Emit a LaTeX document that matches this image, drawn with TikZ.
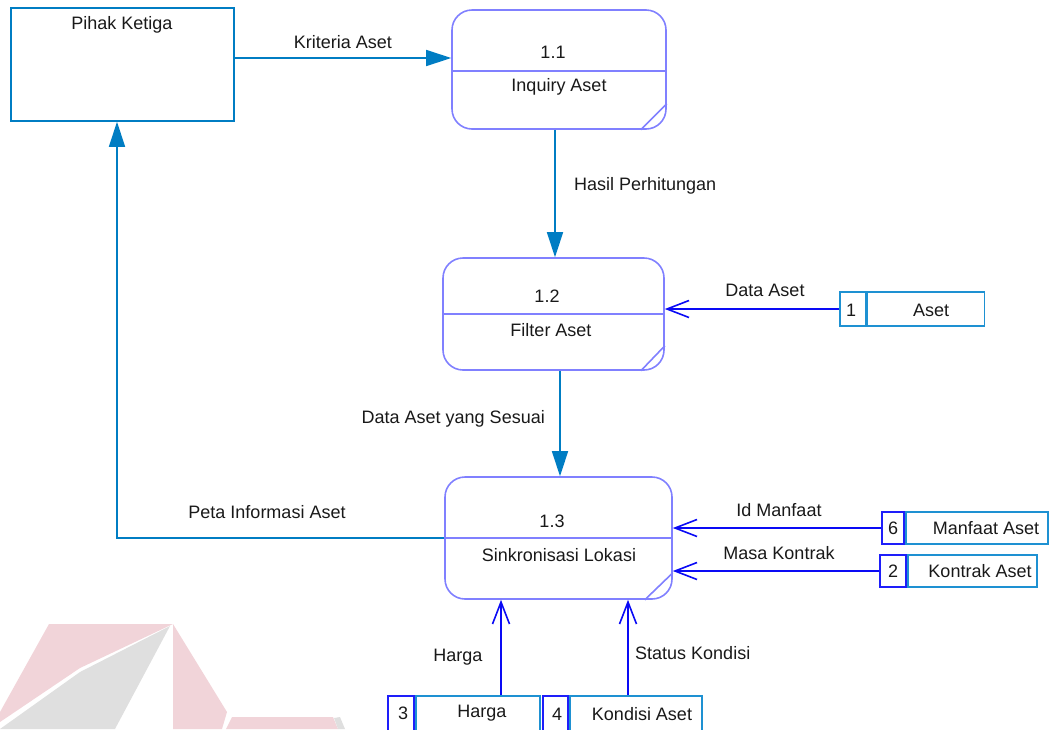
\documentclass[tikz,border=0pt]{standalone}
\usepackage{fontspec}
\setmainfont{Liberation Sans}
\usetikzlibrary{arrows.meta,calc}
\definecolor{entblue}{RGB}{0,125,195}
\definecolor{procedge}{RGB}{128,128,255}
\definecolor{storeedge}{RGB}{30,145,210}
\definecolor{numedge}{RGB}{30,30,250}
\definecolor{dflow}{RGB}{10,10,245}
\definecolor{txt}{RGB}{25,25,25}
\definecolor{wmpink}{RGB}{241,212,217}
\definecolor{wmgray}{RGB}{223,223,223}
\tikzset{
  every node/.style={font=\fontsize{18}{21}\selectfont, text=txt},
  entity/.style={draw=entblue, line width=1.6pt, inner sep=0pt},
  proc/.style={draw=procedge, line width=1.6pt, rounded corners=20pt, inner sep=0pt},
  procline/.style={draw=procedge, line width=1.6pt},
  storename/.style={draw=storeedge, line width=1.6pt, inner sep=0pt},
  storenum/.style={draw=numedge, line width=2pt, inner sep=0pt},
  storenumlight/.style={draw=storeedge, line width=1.6pt, inner sep=0pt},
  flowsolid/.style={draw=entblue, line width=1.6pt, -{Triangle[length=25pt,width=16pt]}},
  flowopen/.style={draw=dflow, line width=1.6pt, -{Straight Barb[length=22pt,width=17pt,line width=1.6pt]}},
  lbl/.style={inner sep=0pt}
}
\begin{document}
\begin{tikzpicture}[x=1pt,y=-1pt]
\useasboundingbox (0,0) rectangle (1049,729);
\clip (0,0) rectangle (1049,729);

% faint logo in the lower left corner
\fill[wmpink] (49,624) -- (173,624) -- (80,668) -- (0,722) -- (0,712) -- cycle;
\fill[wmgray] (170,626) -- (80,672) -- (0,729) -- (115,729) -- cycle;
\fill[wmpink] (173,624) -- (227,712) -- (222,729) -- (173,729) -- cycle;
\fill[wmpink] (232,717) -- (333,717) -- (338,729) -- (226,729) -- cycle;
\fill[wmgray] (334,718) -- (340,717) -- (345,729) -- (338,729) -- cycle;

% external entity
\node[entity, minimum width=223pt, minimum height=113pt] (pk) at (122.5,64.5) {};
\node[lbl] (pkt) at (122,25) {Pihak Ketiga};

% processes
\node[proc, minimum width=214pt, minimum height=119pt] (p1) at (559,69.5) {};
\draw[procline] ([yshift=-1.5pt]p1.west) -- ([yshift=-1.5pt]p1.east);
\draw[procline] ([xshift=-26pt]p1.south east) -- ([yshift=26pt]p1.south east);
\node[lbl] (p1n) at (553,52) {1.1};
\node[lbl] (p1t) at (559,87) {Inquiry Aset};

\node[proc, minimum width=221pt, minimum height=112pt] (p2) at (553.5,314) {};
\draw[procline] (p2.west) -- (p2.east);
\node[lbl] (p2n) at (547,296) {1.2};
\node[lbl] (p2t) at (551,330) {Filter Aset};
\draw[procline] ([xshift=-24pt]p2.south east) -- ([yshift=25pt]p2.south east);

\node[proc, minimum width=227pt, minimum height=122pt] (p3) at (558.5,538) {};
\draw[procline] (p3.west) -- (p3.east);
\draw[procline] ([xshift=-28pt]p3.south east) -- ([yshift=27pt]p3.south east);
\node[lbl] (p3n) at (552,521) {1.3};
\node[lbl] (p3t) at (559,555) {Sinkronisasi Lokasi};

% data stores
\node[storenumlight, minimum width=26pt, minimum height=34pt] (s1n) at (853,309) {};
\node[storename, minimum width=117pt, minimum height=34pt, anchor=west] (s1) at (s1n.east) {};
\node[lbl] at (851,310) {1};
\node[lbl] at (931,310) {Aset};

\node[storename, minimum width=142pt, minimum height=32pt] (s6) at (977,528) {};
\node[storenum, minimum width=22pt, minimum height=32pt, anchor=east] (s6n) at (s6.west) {};
\node[lbl] at (s6n.center) {6};
\node[lbl] at (986,528) {Manfaat Aset};

\node[storename, minimum width=129pt, minimum height=32pt] (s2) at (972.5,571) {};
\node[storenum, minimum width=26pt, minimum height=32pt, anchor=east] (s2n) at (s2.west) {};
\node[lbl] at (s2n.center) {2};
\node[lbl] at (980,571) {Kontrak Aset};

\node[storename, minimum width=124pt, minimum height=36pt] (s3) at (478,714) {};
\node[storenum, minimum width=26pt, minimum height=36pt, anchor=east] (s3n) at (s3.west) {};
\node[lbl] at (403,713) {3};
\node[lbl] at (482,713) {Harga};

\node[storename, minimum width=132pt, minimum height=36pt] (s4) at (636,714) {};
\node[storenum, minimum width=25pt, minimum height=36pt, anchor=east] (s4n) at (s4.west) {};
\node[lbl] at (557,714) {4};
\node[lbl] at (642,714) {Kondisi Aset};

% data flows
\draw[flowsolid] ([yshift=6.5pt]pk.east) -- ([yshift=6.5pt]pk.east -| p1.west);
\node[lbl] (f1) at (343,42) {Kriteria Aset};

\draw[flowsolid] ([xshift=-4pt]p1.south) -- ([xshift=-4pt]p1.south |- p2.north);
\node[lbl, anchor=west] (f2) at (574,186) {Hasil Perhitungan};

\draw[flowopen] (s1n.west) -- (s1n.west -| p2.east);
\node[lbl] (f3) at (765,290) {Data Aset};

\draw[flowsolid] ([xshift=1.5pt]p3.north |- p2.south) -- ([xshift=1.5pt]p3.north);
\node[lbl, anchor=east] (f4) at (545,419) {Data Aset yang Sesuai};

\draw[flowsolid] (p3.west) -| ([xshift=-5.5pt]pk.south);
\node[lbl] (f5) at (267,512) {Peta Informasi Aset};

\draw[flowopen] (s6n.west) -- (s6n.west -| p3.east);
\node[lbl] (f6) at (779,510) {Id Manfaat};

\draw[flowopen] (s2n.west) -- (s2n.west -| p3.east);
\node[lbl] (f7) at (779,553) {Masa Kontrak};

\draw[flowopen] ([xshift=23pt]s3.north) -- ([xshift=23pt]s3.north |- p3.south);
\node[lbl] (f8) at (458,657) {Harga};

\draw[flowopen] ([xshift=-8pt]s4.north) -- ([xshift=-8pt]s4.north |- p3.south);
\node[lbl, anchor=west] (f9) at (635,653) {Status Kondisi};
\end{tikzpicture}
\end{document}
